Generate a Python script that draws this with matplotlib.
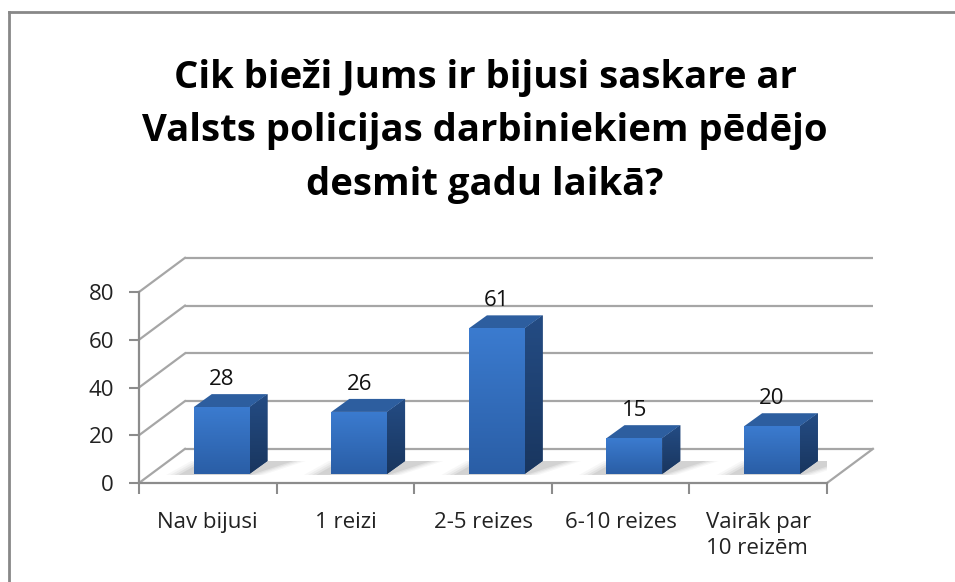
import matplotlib
matplotlib.use("Agg")
import matplotlib.pyplot as plt
import numpy as np
from matplotlib.patches import Polygon
from matplotlib.lines import Line2D
from matplotlib.colors import LinearSegmentedColormap

categories = ["Nav bijusi", "1 reizi", "2-5 reizes", "6-10 reizes", "Vairāk par\n10 reizēm"]
values = [28, 26, 61, 15, 20]
yticks = [0, 20, 40, 60, 80]
title_lines = ["Cik bieži Jums ir bijusi saskare ar",
               "Valsts policijas darbiniekiem pēdējo",
               "desmit gadu laikā?"]

W, H = 955, 582
FONT = "Open Sans"
fig = plt.figure(figsize=(W / 100, H / 100), dpi=100)
fig.patch.set_facecolor("white")

# front plane of the 3D box
ax = fig.add_axes([139 / W, (H - 483) / H, 688 / W, 191 / H])
ax.set_facecolor("none")
n = len(categories)
x = np.arange(n)
ax.set_xlim(-0.5, n - 0.5)
ax.set_ylim(0, 80)

# oblique depth offsets (data units)
DX, DY = 0.334, 14.3          # full depth of the box
F0X, F0Y = 0.10, 3.77          # bar front face offset
BW = 0.405                     # bar width
SX, SY = 0.131, 5.45           # bar depth

grid_c = "#a6a6a6"
axis_c = "#8c8c8c"

# back wall gridlines and left wall diagonals
for v in yticks:
    ax.plot([-0.5 + DX, n - 0.5 + DX], [v + DY, v + DY], color=grid_c, lw=1.6,
            clip_on=False, zorder=1, solid_capstyle="butt")
    ax.plot([-0.5, -0.5 + DX], [v, v + DY], color=grid_c, lw=1.6, clip_on=False, zorder=1)
# floor right edge
ax.plot([n - 0.5, n - 0.5 + DX], [0, DY], color=grid_c, lw=1.6, clip_on=False, zorder=1)

# spines / ticks
for s in ["top", "right"]:
    ax.spines[s].set_visible(False)
for s in ["left", "bottom"]:
    ax.spines[s].set_color(axis_c)
    ax.spines[s].set_linewidth(1.6)
ax.set_yticks(yticks)
ax.set_yticklabels([str(t) for t in yticks], fontfamily=FONT, fontsize=16, color="#222222")
ax.tick_params(axis="y", length=7, width=1.5, color=axis_c, pad=11)
ax.set_xticks(x)
ax.set_xticklabels(categories, fontfamily=FONT, fontsize=16, color="#222222",
                   linespacing=1.3)
for lab in ax.get_xticklabels():
    lab.set_verticalalignment("top")
ax.get_xticklabels()[-1].set_multialignment("left")
ax.tick_params(axis="x", which="major", length=0, pad=21)
ax.set_xticks(np.arange(-0.5, n), minor=True)
ax.tick_params(axis="x", which="minor", length=8, width=1.5, color=axis_c)

front_cmap = LinearSegmentedColormap.from_list("f", ["#2a5ea6", "#3b7bcf"])
side_cmap = LinearSegmentedColormap.from_list("s", ["#19365f", "#244c84"])
grad = np.linspace(0, 1, 64).reshape(-1, 1)

for xi, v in zip(x, values):
    x0 = xi + F0X - BW / 2
    x1 = xi + F0X + BW / 2
    y0 = F0Y
    y1 = F0Y + v
    # soft floor shadow
    for k, a in [(0.10, 0.04), (0.07, 0.05), (0.04, 0.07), (0.01, 0.09)]:
        sh = Polygon([(x0 - 0.10 - k, y0 - 0.4), (x1 + k, y0 - 0.4),
                      (x1 + SX + 0.18 + k, y0 + SY), (x0 + SX - 0.05 - k, y0 + SY)],
                     closed=True, facecolor="#444444", alpha=a, edgecolor="none", zorder=2)
        ax.add_patch(sh)
    # side face
    side = Polygon([(x1, y0), (x1 + SX, y0 + SY), (x1 + SX, y1 + SY), (x1, y1)],
                   closed=True, facecolor="#1f4274", edgecolor="none", zorder=3)
    ax.add_patch(side)
    im = ax.imshow(grad, cmap=side_cmap, origin="lower", aspect="auto",
                   extent=[x1, x1 + SX, y0, y1 + SY], zorder=3)
    im.set_clip_path(side)
    # top face
    top = Polygon([(x0, y1), (x1, y1), (x1 + SX, y1 + SY), (x0 + SX, y1 + SY)],
                  closed=True, facecolor="#2d5e9f", edgecolor="none", zorder=3)
    ax.add_patch(top)
    # front face
    front = ax.bar(xi + F0X, v, bottom=y0, width=BW, color="#3470c0",
                   edgecolor="none", zorder=4)[0]
    im2 = ax.imshow(grad, cmap=front_cmap, origin="lower", aspect="auto",
                    extent=[x0, x1, y0, y1], zorder=4)
    im2.set_clip_path(front)
    # value label
    ax.text(xi + F0X, y1 + 11.5, str(v), ha="center", va="center",
            fontfamily=FONT, fontsize=16, color="#111111", zorder=5, clip_on=False)

ax.set_xlim(-0.5, n - 0.5)
ax.set_ylim(0, 80)

# title
for i, line in enumerate(title_lines):
    fig.text(485 / W, 1 - (78 + 53.5 * i) / H, line, ha="center", va="center",
             fontfamily=FONT, fontweight="bold", fontsize=27.5, color="#000000")

# chart-area border (left and top edges visible)
fig.add_artist(Line2D([9 / W, 9 / W], [0, 1 - 12 / H], transform=fig.transFigure,
                      color="#888888", lw=2))
fig.add_artist(Line2D([9 / W, 1], [1 - 12 / H, 1 - 12 / H], transform=fig.transFigure,
                      color="#888888", lw=2))

fig.savefig("out.png", dpi=100, facecolor="white")
